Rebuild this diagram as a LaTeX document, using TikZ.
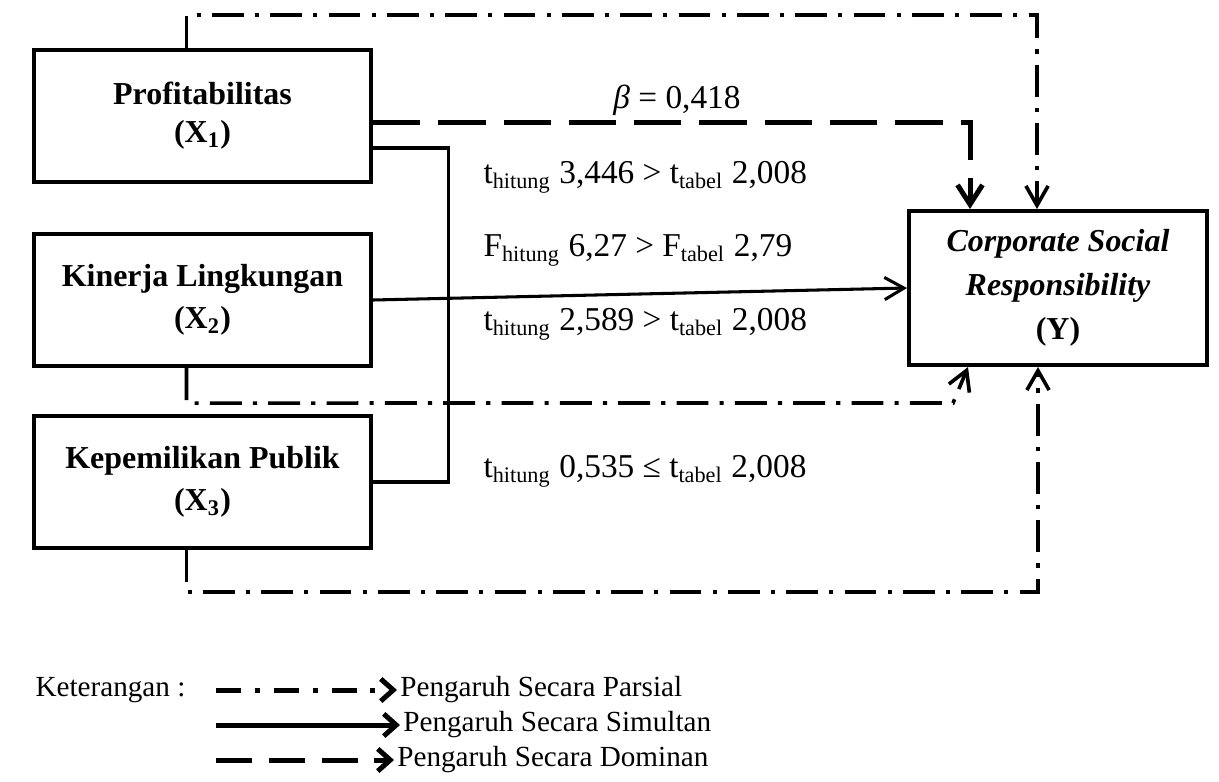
\documentclass[tikz,border=0pt]{standalone}
\usepackage{fontspec}
\setmainfont{Liberation Serif}
\usetikzlibrary{arrows.meta}

\begin{document}
\begin{tikzpicture}[x=0.36pt, y=-0.36pt, font=\fontsize{12}{14}\selectfont,
    varbox/.style={draw, line width=1.5pt, minimum width=121.3pt, minimum height=47.5pt,
      align=center, font=\bfseries\fontsize{11.5}{15}\selectfont},
    parsial/.style={line width=1.3pt, dash pattern=on 11.5pt off 4pt on 1.5pt off 4pt},
    simultan/.style={line width=1.1pt},
    dominan/.style={line width=1.8pt, dash pattern=on 17pt off 6.5pt},
    barb/.style={-{Straight Barb[length=7pt,width=8pt]}},
    stat/.style={anchor=west, inner sep=0pt},
    legtext/.style={anchor=west, inner sep=1pt, font=\fontsize{10.5}{12}\selectfont},
    legtip/.style={-{Straight Barb[length=4.5pt,width=8pt]}, line width=1.8pt}]
  \useasboundingbox (0,0) rectangle (1219,781);

  % ---------------- variables ----------------
  \node[varbox] (X1) at (202.5,116) {Profitabilitas\\[-1.3pt](X\textsubscript{1})};
  \node[varbox] (X2) at (202.5,300) {Kinerja Lingkungan\\(X\textsubscript{2})};
  \node[varbox] (X3) at (202.5,482) {Kepemilikan Publik\\(X\textsubscript{3})};
  \node[varbox, minimum width=107.2pt, minimum height=55.4pt,
    font=\bfseries\itshape\fontsize{11.5}{15.8}\selectfont] (Y) at (1058,288)
    {Corporate Social\\Responsibility\\\upshape(Y)};

  % ---------------- test results ----------------
  \node (beta) at (677,100) {\textit{β} = 0,418};
  \node[stat] (t1) at (483,177) {t\textsubscript{hitung} 3,446 > t\textsubscript{tabel} 2,008};
  \node[stat] (f1) at (483,250) {F\textsubscript{hitung} 6,27 > F\textsubscript{tabel} 2,79};
  \node[stat] (t2) at (483,324) {t\textsubscript{hitung} 2,589 > t\textsubscript{tabel} 2,008};
  \node[stat] (t3) at (483,471) {t\textsubscript{hitung} 0,535 ≤ t\textsubscript{tabel} 2,008};

  % ---------------- partial paths ----------------
  \draw[parsial, barb] ([shift={(-16,0)}]X1.north) -- ++(0,-33) -| ([shift={(-21,0)}]Y.north);
  \draw[parsial, barb] ([shift={(-16,0)}]X2.south) -- ++(0,35)
    -- ([shift={(-105,36)}]Y.south) -- ([shift={(-90,0)}]Y.south);
  \draw[parsial, barb] ([shift={(-16,0)}]X3.south) -- ++(0,42) -| ([shift={(-20,0)}]Y.south);

  % ---------------- dominant and simultaneous ----------------
  \draw[dominan, -{Straight Barb[length=7pt,width=9pt]}]
    ([shift={(0,6)}]X1.east) -| ([shift={(-88,0)}]Y.north);
  \draw[simultan] ([shift={(0,32)}]X1.east) -- ++(75,0) |- (X3.east);
  \draw[simultan, barb] (X2.east) -- (Y.west);

  % ---------------- legend ----------------
  \node[anchor=west, inner sep=0pt, font=\fontsize{10.5}{12}\selectfont] (ket) at (35,690) {Keterangan :};
  \node[legtext] (lp) at (397,690) {Pengaruh Secara Parsial};
  \node[legtext] (ls) at (400,725) {Pengaruh Secara Simultan};
  \node[legtext] (ld) at (394,760) {Pengaruh Secara Dominan};
  \coordinate (a1) at (216,690);
  \coordinate (a2) at (216,725);
  \coordinate (a3) at (216,760);
  \draw[legtip, dash pattern=on 9pt off 5pt on 1.8pt off 5pt] (a1) -- (lp.west);
  \draw[legtip] (a2) -- (ls.west);
  \draw[legtip, dash pattern=on 13pt off 6pt] (a3) -- (ld.west);
\end{tikzpicture}
\end{document}
